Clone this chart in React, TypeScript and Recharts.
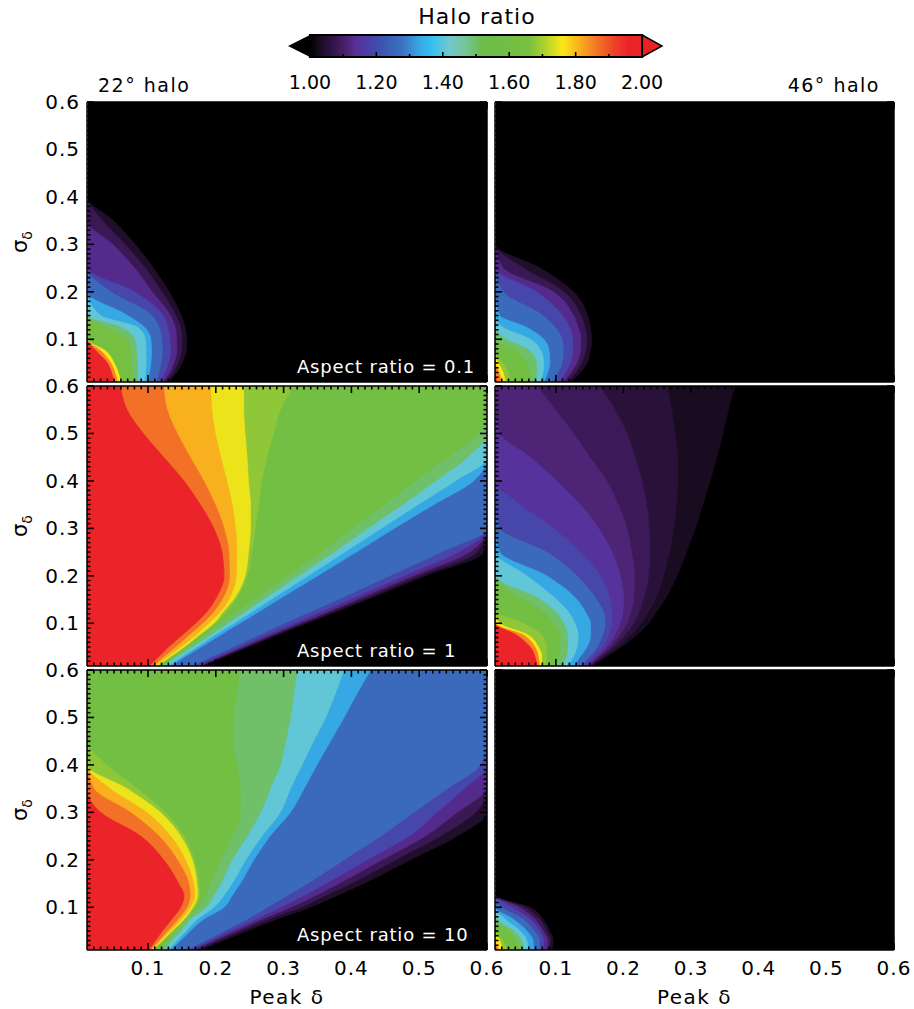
import React from "react";
import { ComposedChart, Area, XAxis, YAxis, CartesianGrid, ReferenceArea } from "recharts";

const sigma = [0.01, 0.03, 0.05, 0.075, 0.1, 0.125, 0.15, 0.2, 0.25, 0.3, 0.35, 0.4, 0.45, 0.5, 0.55, 0.6];

// halo ratio levels and the Peak δ where each level ends (one row per level)
const levels22a = [1.02, 1.06, 1.1, 1.16, 1.22, 1.3, 1.36, 1.45, 1.55, 1.72, 1.8, 1.9];
const edges22a = [
  [0.13, 0.142, 0.15, 0.156, 0.157, 0.155, 0.149, 0.131, 0.108, 0.081, 0.049, 0.01],
  [0.126, 0.137, 0.144, 0.149, 0.15, 0.148, 0.141, 0.12, 0.096, 0.066, 0.033, 0.01],
  [0.122, 0.132, 0.138, 0.142, 0.142, 0.14, 0.133, 0.106, 0.08, 0.048, 0.01],
  [0.118, 0.125, 0.13, 0.133, 0.132, 0.129, 0.122, 0.08, 0.01],
  [0.112, 0.116, 0.119, 0.121, 0.12, 0.116, 0.106, 0.045, 0.01],
  [0.1, 0.102, 0.104, 0.105, 0.104, 0.095, 0.07, 0.01],
  [0.095, 0.096, 0.097, 0.097, 0.096, 0.085, 0.03, 0.01],
  [0.084, 0.084, 0.084, 0.083, 0.08, 0.06, 0.01],
  [0.078, 0.076, 0.075, 0.073, 0.068, 0.035, 0.01],
  [0.06, 0.056, 0.05, 0.038, 0.01],
  [0.055, 0.051, 0.045, 0.031, 0.01],
  [0.05, 0.046, 0.04, 0.024, 0.01],
];

const levels22b = [1.02, 1.06, 1.1, 1.16, 1.22, 1.3, 1.36, 1.45, 1.55, 1.64, 1.72, 1.78, 1.84, 1.9];
const edges22b = [
  [0.182, 0.214, 0.248, 0.29, 0.334, 0.379, 0.423, 0.509, 0.595, 0.6, 0.6, 0.6, 0.6, 0.6, 0.6, 0.6],
  [0.179, 0.21, 0.244, 0.285, 0.329, 0.372, 0.416, 0.5, 0.585, 0.6, 0.6, 0.6, 0.6, 0.6, 0.6, 0.6],
  [0.176, 0.207, 0.24, 0.281, 0.323, 0.366, 0.408, 0.491, 0.574, 0.6, 0.6, 0.6, 0.6, 0.6, 0.6, 0.6],
  [0.172, 0.202, 0.234, 0.273, 0.315, 0.355, 0.397, 0.477, 0.557, 0.6, 0.6, 0.6, 0.6, 0.6, 0.6, 0.6],
  [0.165, 0.194, 0.225, 0.262, 0.301, 0.34, 0.38, 0.456, 0.532, 0.6, 0.6, 0.6, 0.6, 0.6, 0.6, 0.6],
  [0.133, 0.155, 0.178, 0.206, 0.235, 0.264, 0.292, 0.35, 0.407, 0.463, 0.521, 0.58, 0.6, 0.6, 0.6, 0.6],
  [0.129, 0.15, 0.172, 0.198, 0.227, 0.254, 0.281, 0.336, 0.39, 0.444, 0.498, 0.553, 0.6, 0.6, 0.6, 0.6],
  [0.123, 0.143, 0.165, 0.191, 0.217, 0.244, 0.269, 0.322, 0.374, 0.424, 0.475, 0.524, 0.571, 0.6, 0.6, 0.6],
  [0.118, 0.138, 0.157, 0.182, 0.206, 0.232, 0.256, 0.305, 0.354, 0.401, 0.448, 0.494, 0.541, 0.588, 0.6, 0.6],
  [0.115, 0.135, 0.155, 0.177, 0.199, 0.216, 0.229, 0.246, 0.253, 0.258, 0.263, 0.268, 0.275, 0.285, 0.295, 0.315],
  [0.113, 0.133, 0.153, 0.175, 0.197, 0.211, 0.226, 0.243, 0.248, 0.251, 0.251, 0.248, 0.246, 0.243, 0.241, 0.241],
  [0.109, 0.129, 0.148, 0.17, 0.189, 0.207, 0.219, 0.23, 0.231, 0.229, 0.224, 0.216, 0.207, 0.199, 0.194, 0.192],
  [0.106, 0.123, 0.14, 0.16, 0.18, 0.197, 0.209, 0.22, 0.219, 0.212, 0.199, 0.182, 0.162, 0.143, 0.128, 0.123],
  [0.101, 0.116, 0.13, 0.15, 0.17, 0.187, 0.199, 0.212, 0.209, 0.197, 0.177, 0.153, 0.123, 0.093, 0.069, 0.059],
];

const levels22c = [1.02, 1.06, 1.1, 1.16, 1.22, 1.3, 1.36, 1.45, 1.55, 1.64, 1.72, 1.78, 1.84, 1.9];
const edges22c = [
  [0.177, 0.212, 0.246, 0.29, 0.339, 0.379, 0.418, 0.487, 0.556, 0.6, 0.6, 0.6, 0.6, 0.6, 0.6, 0.6],
  [0.172, 0.204, 0.237, 0.278, 0.325, 0.362, 0.399, 0.465, 0.531, 0.583, 0.6, 0.6, 0.6, 0.6, 0.6, 0.6],
  [0.167, 0.198, 0.229, 0.268, 0.31, 0.347, 0.381, 0.445, 0.509, 0.556, 0.598, 0.6, 0.6, 0.6, 0.6, 0.6],
  [0.162, 0.192, 0.221, 0.258, 0.295, 0.33, 0.362, 0.423, 0.485, 0.526, 0.566, 0.6, 0.6, 0.6, 0.6, 0.6],
  [0.157, 0.185, 0.212, 0.246, 0.276, 0.305, 0.335, 0.389, 0.443, 0.492, 0.541, 0.59, 0.6, 0.6, 0.6, 0.6],
  [0.133, 0.148, 0.162, 0.182, 0.212, 0.224, 0.236, 0.256, 0.28, 0.31, 0.33, 0.349, 0.369, 0.389, 0.408, 0.428],
  [0.129, 0.143, 0.156, 0.173, 0.197, 0.212, 0.224, 0.244, 0.268, 0.295, 0.31, 0.327, 0.344, 0.362, 0.376, 0.389],
  [0.123, 0.135, 0.148, 0.162, 0.185, 0.197, 0.207, 0.224, 0.246, 0.266, 0.28, 0.295, 0.303, 0.31, 0.315, 0.32],
  [0.118, 0.129, 0.14, 0.153, 0.175, 0.185, 0.192, 0.207, 0.224, 0.236, 0.236, 0.231, 0.226, 0.226, 0.231, 0.236],
  [0.107, 0.123, 0.138, 0.155, 0.169, 0.176, 0.175, 0.168, 0.153, 0.125, 0.084, 0.039, 0.01],
  [0.106, 0.121, 0.135, 0.153, 0.166, 0.173, 0.172, 0.165, 0.148, 0.118, 0.069, 0.01],
  [0.104, 0.118, 0.132, 0.149, 0.162, 0.169, 0.167, 0.155, 0.133, 0.098, 0.044, 0.01],
  [0.103, 0.116, 0.128, 0.144, 0.157, 0.162, 0.16, 0.143, 0.116, 0.074, 0.02, 0.01],
  [0.101, 0.111, 0.121, 0.135, 0.148, 0.153, 0.145, 0.123, 0.089, 0.03, 0.01],
];

const levels46a = [1.02, 1.06, 1.1, 1.16, 1.22, 1.3, 1.36, 1.45, 1.55, 1.64, 1.72, 1.8, 1.9];
const edges46a = [
  [0.123, 0.136, 0.146, 0.151, 0.153, 0.151, 0.147, 0.126, 0.077, 0.01],
  [0.117, 0.129, 0.138, 0.144, 0.146, 0.143, 0.137, 0.112, 0.052, 0.01],
  [0.111, 0.122, 0.131, 0.136, 0.137, 0.133, 0.126, 0.096, 0.022, 0.01],
  [0.104, 0.114, 0.121, 0.125, 0.125, 0.12, 0.11, 0.071, 0.01],
  [0.094, 0.103, 0.109, 0.111, 0.109, 0.099, 0.081, 0.022, 0.01],
  [0.082, 0.088, 0.091, 0.09, 0.082, 0.057, 0.017, 0.01],
  [0.076, 0.081, 0.082, 0.078, 0.062, 0.022, 0.01],
  [0.069, 0.072, 0.071, 0.062, 0.027, 0.01],
  [0.062, 0.062, 0.057, 0.042, 0.01],
  [0.032, 0.03, 0.022, 0.01],
  [0.025, 0.022, 0.015, 0.01],
  [0.02, 0.016, 0.01],
  [0.013, 0.01],
];

const levels46b = [1.02, 1.04, 1.07, 1.1, 1.13, 1.16, 1.22, 1.3, 1.36, 1.45, 1.55, 1.64, 1.72, 1.8, 1.9];
const edges46b = [
  [0.155, 0.175, 0.197, 0.219, 0.237, 0.249, 0.261, 0.279, 0.293, 0.306, 0.317, 0.328, 0.338, 0.347, 0.355, 0.365],
  [0.153, 0.171, 0.191, 0.211, 0.226, 0.237, 0.247, 0.259, 0.268, 0.274, 0.278, 0.28, 0.28, 0.276, 0.271, 0.264],
  [0.15, 0.168, 0.185, 0.202, 0.215, 0.223, 0.229, 0.237, 0.239, 0.238, 0.234, 0.227, 0.217, 0.205, 0.187, 0.165],
  [0.148, 0.164, 0.18, 0.194, 0.205, 0.211, 0.215, 0.216, 0.212, 0.205, 0.192, 0.175, 0.15, 0.126, 0.099, 0.072],
  [0.146, 0.161, 0.175, 0.187, 0.195, 0.199, 0.2, 0.195, 0.183, 0.163, 0.136, 0.101, 0.062, 0.017, 0.01],
  [0.142, 0.156, 0.169, 0.178, 0.183, 0.183, 0.18, 0.165, 0.136, 0.096, 0.047, 0.01],
  [0.136, 0.15, 0.161, 0.169, 0.173, 0.17, 0.16, 0.131, 0.086, 0.017, 0.01],
  [0.126, 0.136, 0.146, 0.151, 0.151, 0.143, 0.131, 0.086, 0.017, 0.01],
  [0.117, 0.126, 0.131, 0.133, 0.128, 0.118, 0.101, 0.057, 0.01],
  [0.109, 0.115, 0.117, 0.117, 0.111, 0.099, 0.077, 0.01],
  [0.099, 0.104, 0.106, 0.106, 0.096, 0.081, 0.052, 0.01],
  [0.084, 0.086, 0.086, 0.079, 0.052, 0.01],
  [0.079, 0.079, 0.074, 0.059, 0.017, 0.01],
  [0.076, 0.074, 0.069, 0.052, 0.01],
  [0.072, 0.069, 0.062, 0.042, 0.01],
];

const levels46c = [1.02, 1.06, 1.1, 1.16, 1.22, 1.3, 1.36, 1.45, 1.55, 1.64, 1.72, 1.8, 1.9];
const edges46c = [
  [0.094, 0.096, 0.091, 0.081, 0.062, 0.01],
  [0.09, 0.092, 0.086, 0.076, 0.054, 0.01],
  [0.086, 0.088, 0.081, 0.069, 0.046, 0.01],
  [0.081, 0.082, 0.076, 0.062, 0.035, 0.01],
  [0.076, 0.076, 0.068, 0.052, 0.02, 0.01],
  [0.067, 0.066, 0.057, 0.037, 0.01],
  [0.059, 0.057, 0.047, 0.025, 0.01],
  [0.052, 0.049, 0.038, 0.012, 0.01],
  [0.045, 0.041, 0.03, 0.01],
  [0.027, 0.022, 0.01],
  [0.021, 0.017, 0.01],
  [0.016, 0.01],
  [0.012, 0.01],
];

// colour table of the colour bar
const haloStops: [number, string][] = [
  [1.0, "#000000"], [1.03, "#1a0c20"], [1.07, "#33144a"], [1.11, "#4c2270"], [1.14, "#58309a"],
  [1.18, "#4a40a8"], [1.22, "#3c56b0"], [1.28, "#3a74c4"], [1.33, "#36a8e4"], [1.37, "#38c0ef"],
  [1.42, "#72c8cc"], [1.47, "#74c494"], [1.52, "#6cbd4a"], [1.66, "#78c03f"], [1.71, "#b2d22e"],
  [1.76, "#fbe716"], [1.81, "#f9b01e"], [1.86, "#f47a27"], [1.92, "#ee3e29"], [1.96, "#eb2429"],
  [2.0, "#ea2228"],
];
const barTicks = [1.0, 1.1, 1.2, 1.3, 1.4, 1.5, 1.6, 1.7, 1.8, 1.9, 2.0];

const X_MIN = 0.01;
const X_MAX = 0.6;
const gridTicks = Array.from({ length: 59 }, (_, i) => Math.round((0.02 + i * 0.01) * 100) / 100);

const cols = [
  { left: 87, width: 400 },
  { left: 495, width: 399 },
];
const rowTops = [102, 386, 670];
const plotH = 280;
const AX = 1; // axis band thickness (recharts skips zero-size axes)
const FONT = "'DejaVu Sans', sans-serif";

const hex = (c: string) => [1, 3, 5].map((i) => parseInt(c.slice(i, i + 2), 16));

function haloColor(v: number) {
  const t = Math.min(2, Math.max(1, v));
  for (let i = 1; i < haloStops.length; i++) {
    const [v1, c1] = haloStops[i];
    if (t <= v1) {
      const [v0, c0] = haloStops[i - 1];
      const f = (t - v0) / (v1 - v0);
      const a = hex(c0);
      const b = hex(c1);
      return `rgb(${a.map((x, k) => Math.round(x + (b[k] - x) * f)).join(",")})`;
    }
  }
  return haloStops[haloStops.length - 1][1];
}

const bandColor = (levels: number[], k: number) =>
  haloColor(k < levels.length - 1 ? (levels[k] + levels[k + 1]) / 2 : 1.97);

const isMajor = (v: number) => Math.abs(v * 10 - Math.round(v * 10)) < 1e-6;

const edgeTick = (side: string, showLabel: boolean) => (p: any) => {
  const v = p.payload?.value ?? 0;
  const len = isMajor(v) ? 7 : 3.5;
  const { x, y } = p;
  let line;
  if (side === "bottom") line = <line x1={x} y1={y} x2={x} y2={y - len} />;
  else if (side === "top") line = <line x1={x} y1={y} x2={x} y2={y + len} />;
  else if (side === "left") line = <line x1={x} y1={y} x2={x + len} y2={y} />;
  else line = <line x1={x} y1={y} x2={x - len} y2={y} />;
  const label = showLabel && isMajor(v);
  return (
    <g stroke="#000" strokeWidth={1.6}>
      {line}
      {label && side === "bottom" && (
        <text x={x} y={y + 25} textAnchor="middle" stroke="none" fill="#000" fontSize={20} letterSpacing={1}>
          {v.toFixed(1)}
        </text>
      )}
      {label && side === "left" && (
        <text x={x - 7} y={y + 7} textAnchor="end" stroke="none" fill="#000" fontSize={20} letterSpacing={1}>
          {v.toFixed(1)}
        </text>
      )}
    </g>
  );
};

const sigmaLabel = (p: any) => {
  const vb = p.viewBox || {};
  const cx = vb.x + vb.width - 60;
  const cy = vb.y + vb.height / 2;
  return (
    <text x={cx} y={cy} transform={`rotate(-90 ${cx} ${cy})`} textAnchor="middle" fontSize={21} fill="#000">
      σ<tspan fontSize={14} dy={5}>δ</tspan>
    </text>
  );
};

const peakLabel = (p: any) => {
  const vb = p.viewBox || {};
  return (
    <text x={vb.x + vb.width / 2} y={vb.y + 54} textAnchor="middle" fontSize={20} letterSpacing={1.5} fill="#000">
      Peak δ
    </text>
  );
};

const frameLine = { stroke: "#000", strokeWidth: 1.5 };

interface PanelProps {
  levels: number[];
  edges: number[][];
  col: number;
  row: number;
}

const HaloPanel = ({ levels, edges, col, row }: PanelProps) => {
  const { left, width } = cols[col];
  const top = rowTops[row];
  const showY = col === 0;
  const showX = row === 2;
  // distance from the svg edge to the plot edge
  const mL = showY ? left : 12;
  const mR = 18;
  const mT = 14;
  const mB = showX ? 60 : 6;

  // one row per σδ, one column per contour level
  const rows = sigma.map((s, i) => {
    const r: Record<string, number> = { s };
    edges.forEach((e, k) => {
      r[`e${k}`] = e[i] ?? X_MIN;
    });
    return r;
  });

  const axisCommon = {
    type: "number" as const,
    domain: [X_MIN, X_MAX],
    allowDataOverflow: true,
    ticks: gridTicks,
    interval: 0 as const,
    tickLine: false,
    tickSize: 0,
    tickMargin: 0,
    axisLine: frameLine,
  };

  return (
    <div style={{ position: "absolute", left: left - mL, top: top - mT }}>
      <ComposedChart
        layout="vertical"
        width={width + mL + mR}
        height={plotH + mT + mB}
        data={rows}
        margin={{ top: mT - AX, right: mR - AX, bottom: mB - AX, left: mL - AX }}
      >
        <CartesianGrid fill="#000" stroke="none" />
        {levels.map((lv, k) => {
          const c = bandColor(levels, k);
          return (
            <Area
              key={lv}
              type="monotone"
              dataKey={`e${k}`}
              fill={c}
              fillOpacity={1}
              stroke={c}
              strokeWidth={0.8}
              dot={false}
              activeDot={false}
              isAnimationActive={false}
            />
          );
        })}
        <XAxis {...axisCommon} height={AX} tick={edgeTick("bottom", showX)} label={showX ? peakLabel : undefined} />
        <XAxis {...axisCommon} xAxisId="top" orientation="top" height={AX} tick={edgeTick("top", false)} />
        <YAxis
          {...axisCommon}
          dataKey="s"
          reversed
          width={AX}
          tick={edgeTick("left", showY)}
          label={showY ? sigmaLabel : undefined}
        />
        <YAxis {...axisCommon} yAxisId="right" orientation="right" dataKey="s" reversed width={AX} tick={edgeTick("right", false)} />
      </ComposedChart>
    </div>
  );
};

const barTick = (p: any) => {
  const v = Math.round((p.payload?.value ?? 0) * 10) / 10;
  const labelled = Math.abs(v * 5 - Math.round(v * 5)) < 1e-6;
  return labelled ? (
    <text x={p.x} y={p.y + 32} textAnchor="middle" fontSize={19} fill="#000">
      {v.toFixed(2)}
    </text>
  ) : (
    <g />
  );
};

// gradient bar with its inner tick marks, placed by the ReferenceArea over [1, 2]
const barShape = (p: any) => (
  <g>
    <rect x={p.x} y={p.y} width={p.width} height={p.height} fill="url(#haloGrad)" stroke="#000" strokeWidth={2} />
    {barTicks
      .filter((v) => v > 1.01 && v < 1.99)
      .map((v) => {
        const tx = p.x + p.width * (v - 1);
        const tall = Math.abs(v * 5 - Math.round(v * 5)) < 1e-6;
        return (
          <line
            key={v}
            x1={tx}
            x2={tx}
            y1={p.y + p.height}
            y2={p.y + p.height - (tall ? 5 : 3)}
            stroke="#000"
            strokeWidth={1.6}
          />
        );
      })}
  </g>
);

const leftArrow = (p: any) => (
  <path d={`M${p.x},${p.y + p.height / 2} L${p.x + p.width},${p.y} L${p.x + p.width},${p.y + p.height} Z`} fill="#000" />
);
const rightArrow = (p: any) => (
  <path
    d={`M${p.x},${p.y} L${p.x + p.width},${p.y + p.height / 2} L${p.x},${p.y + p.height} Z`}
    fill="#ea2228"
    stroke="#000"
    strokeWidth={1.5}
  />
);

const HaloColorBar = () => (
  <div style={{ position: "absolute", left: 250, top: 0 }}>
    <ComposedChart
      width={450}
      height={100}
      data={barTicks.map((t) => ({ t, y: 0.5 }))}
      margin={{ top: 35, right: 38, bottom: 43 - AX, left: 38 }}
    >
      <defs>
        <linearGradient id="haloGrad" x1="0" y1="0" x2="1" y2="0">
          {haloStops.map(([v, c]) => (
            <stop key={v} offset={`${(v - 1) * 100}%`} stopColor={c} />
          ))}
        </linearGradient>
      </defs>
      <YAxis type="number" dataKey="y" domain={[0, 1]} allowDataOverflow hide />
      <ReferenceArea x1={0.934} x2={1} y1={0} y2={1} shape={leftArrow} ifOverflow="visible" />
      <ReferenceArea x1={2} x2={2.06} y1={0} y2={1} shape={rightArrow} ifOverflow="visible" />
      <ReferenceArea x1={1} x2={2} y1={0} y2={1} shape={barShape} ifOverflow="visible" />
      <XAxis
        type="number"
        dataKey="t"
        domain={[0.934, 2.06]}
        allowDataOverflow
        ticks={barTicks}
        interval={0}
        tick={barTick}
        tickLine={false}
        axisLine={false}
        tickSize={0}
        tickMargin={0}
        height={AX}
      />
    </ComposedChart>
  </div>
);

const panels = [
  { levels: levels22a, edges: edges22a, col: 0, row: 0, note: "Aspect ratio = 0.1" },
  { levels: levels22b, edges: edges22b, col: 0, row: 1, note: "Aspect ratio = 1" },
  { levels: levels22c, edges: edges22c, col: 0, row: 2, note: "Aspect ratio = 10" },
  { levels: levels46a, edges: edges46a, col: 1, row: 0, note: "" },
  { levels: levels46b, edges: edges46b, col: 1, row: 1, note: "" },
  { levels: levels46c, edges: edges46c, col: 1, row: 2, note: "" },
];

const App = () => {
  return (
    <div
      style={{
        position: "absolute",
        left: 0,
        top: 0,
        width: 914,
        height: 1009,
        background: "#fff",
        fontFamily: FONT,
        color: "#000",
      }}
    >
      <div
        style={{ position: "absolute", left: 377, top: 6, width: 200, textAlign: "center", fontSize: 22, lineHeight: "22px", letterSpacing: 1 }}
      >
        Halo ratio
      </div>
      <HaloColorBar />
      <div style={{ position: "absolute", left: 98, top: 76, fontSize: 19, lineHeight: "19px", letterSpacing: 1.5 }}>
        22° halo
      </div>
      <div
        style={{ position: "absolute", left: 760, top: 76, width: 120, textAlign: "right", fontSize: 19, lineHeight: "19px", letterSpacing: 1.5 }}
      >
        46° halo
      </div>
      {panels.map((p) => (
        <HaloPanel key={`${p.col}-${p.row}`} levels={p.levels} edges={p.edges} col={p.col} row={p.row} />
      ))}
      {panels
        .filter((p) => p.note)
        .map((p) => (
          <div
            key={p.note}
            style={{
              position: "absolute",
              left: 297,
              top: rowTops[p.row] + plotH - 24,
              fontSize: 18,
              lineHeight: "18px",
              letterSpacing: 0.8,
              color: "#fff",
              whiteSpace: "nowrap",
            }}
          >
            {p.note}
          </div>
        ))}
    </div>
  );
};

export default App;
